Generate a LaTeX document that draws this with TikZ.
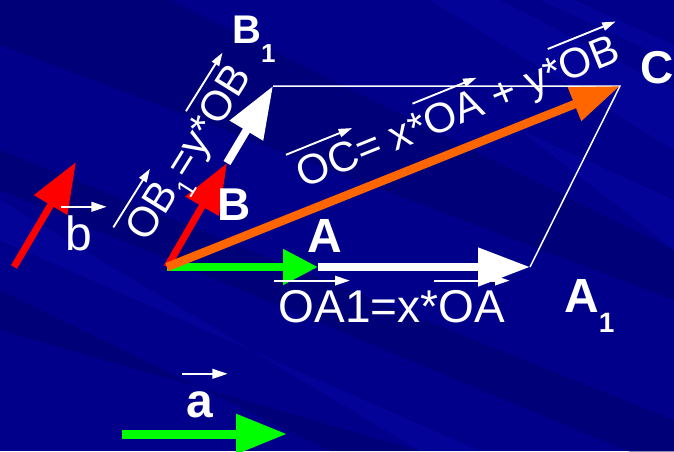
\documentclass[tikz,border=0pt]{standalone}
\usepackage{fontspec}
\setmainfont{Liberation Sans}
\usetikzlibrary{arrows.meta}
\definecolor{bgblue}{RGB}{0,0,138}
\definecolor{bgdark}{RGB}{0,0,100}
\definecolor{bglight}{RGB}{8,8,168}
\definecolor{vred}{RGB}{255,0,0}
\definecolor{vgreen}{RGB}{0,255,0}
\definecolor{vorange}{RGB}{255,102,0}
\newcommand\vv[2][0.1em]{\tikz[baseline=(vvt.base)]{\node[inner sep=0pt,outer sep=0pt,anchor=base,text=white](vvt){#2};\draw[overlay,white,line width=0.045em,-{Triangle[length=0.32em,width=0.2em]}] ([shift={(-0.1em,0.9em)}]vvt.base west) -- ([shift={(#1,0.9em)}]vvt.base east);}}
\begin{document}
\begin{tikzpicture}[x=1pt,y=-1pt,
  lbl/.style={text=white,inner sep=0pt,font=\bfseries\fontsize{#1}{#1}\selectfont},
  txt/.style={text=white,inner sep=0pt,font=\fontsize{#1}{#1}\selectfont},
  thinline/.style={draw=white,line width=1.5pt,line join=miter},
  bigwhite/.style={draw=white,line width=8pt,-{Triangle[length=52pt,width=37pt]}},
  redarrow/.style={draw=vred,line width=7pt,-{Triangle[length=50pt,width=37pt]}},
  greenarrow/.style={draw=vgreen,line width=8pt,-{Triangle[length=35pt,width=34pt]}},
  greenbig/.style={draw=vgreen,line width=9pt,-{Triangle[length=51pt,width=38pt]}},
  orangearrow/.style={draw=vorange,line width=8.5pt,-{Triangle[length=49pt,width=34pt]}},
  band/.style={fill=#1,draw=none,opacity=0.45}]
\useasboundingbox (0,0) rectangle (674,451);
\begin{scope}
\clip (0,0) rectangle (674,451);
\fill[bgblue] (0,0) rectangle (674,451);
\fill[band=bgdark] (0,0) -- (170,0) -- (674,250) -- (674,300) -- (0,45) -- cycle;
\fill[band=bgdark] (0,150) -- (674,420) -- (674,470) -- (0,190) -- cycle;
\fill[band=bgdark] (0,290) -- (330,451) -- (420,451) -- (0,330) -- cycle;
\fill[band=bglight] (430,0) -- (500,0) -- (674,90) -- (674,150) -- cycle;
\fill[band=bglight] (540,0) -- (574,0) -- (674,45) -- (674,62) -- cycle;
\fill[band=bglight] (0,200) -- (0,240) -- (480,451) -- (420,451) -- cycle;
\fill[band=bglight] (520,130) -- (674,200) -- (674,250) -- cycle;
\end{scope}
\coordinate (O) at (167,267);
\coordinate (A) at (318,267);
\coordinate (A1) at (530,267);
\coordinate (B) at (227,163);
\coordinate (B1) at (273,86);
\coordinate (C) at (620,86);
\coordinate (bT) at (14,267);
\coordinate (bH) at (76,162);
\coordinate (aT) at (122,434);
\coordinate (aH) at (287,434);
\draw[thinline] (B1) -- (C) -- (A1);
\draw[bigwhite] (A) -- (A1);
\draw[bigwhite] (B) -- (B1);
\draw[redarrow] (O) -- (B);
\draw[redarrow] (bT) -- (bH);
\draw[greenarrow] (O) -- (A);
\draw[greenbig] (aT) -- (aH);
\draw[orangearrow] (O) -- (C);
\node[lbl=40,anchor=base west] (lB1) at (232,43) {B\raisebox{-19pt}{\fontsize{26}{26}\selectfont 1}};
\node[lbl=46,anchor=base] (lB) at (234,220) {B};
\node[lbl=48,anchor=base] (lA) at (325,252) {A};
\node[lbl=48,anchor=base west] (lA1) at (564,312) {A\raisebox{-20pt}{\fontsize{28}{28}\selectfont 1}};
\node[lbl=46,anchor=base] (lC) at (657,83) {C};
\node[lbl=48,anchor=base] (la) at (200,417) {\vv[0.3em]{a}};
\node[txt=48,anchor=base] (lb) at (79,250) {\vv[0.3em]{b}};
\node[txt=46,anchor=base] (lOA) at (392,322) {\vv{OA}1=x*\vv{OA}};
\node[txt=42,anchor=base,rotate=22] (lOC) at (463,124) {\vv{OC}= x*\vv{OA} + y*\vv[0.2em]{OB}};
\node[txt=42,anchor=base,rotate=58] (lOB) at (200,160) {\vv{OB}\raisebox{-0.3em}{\fontsize{26}{26}\selectfont 1}=y*\vv{OB}};
\end{tikzpicture}
\end{document}
